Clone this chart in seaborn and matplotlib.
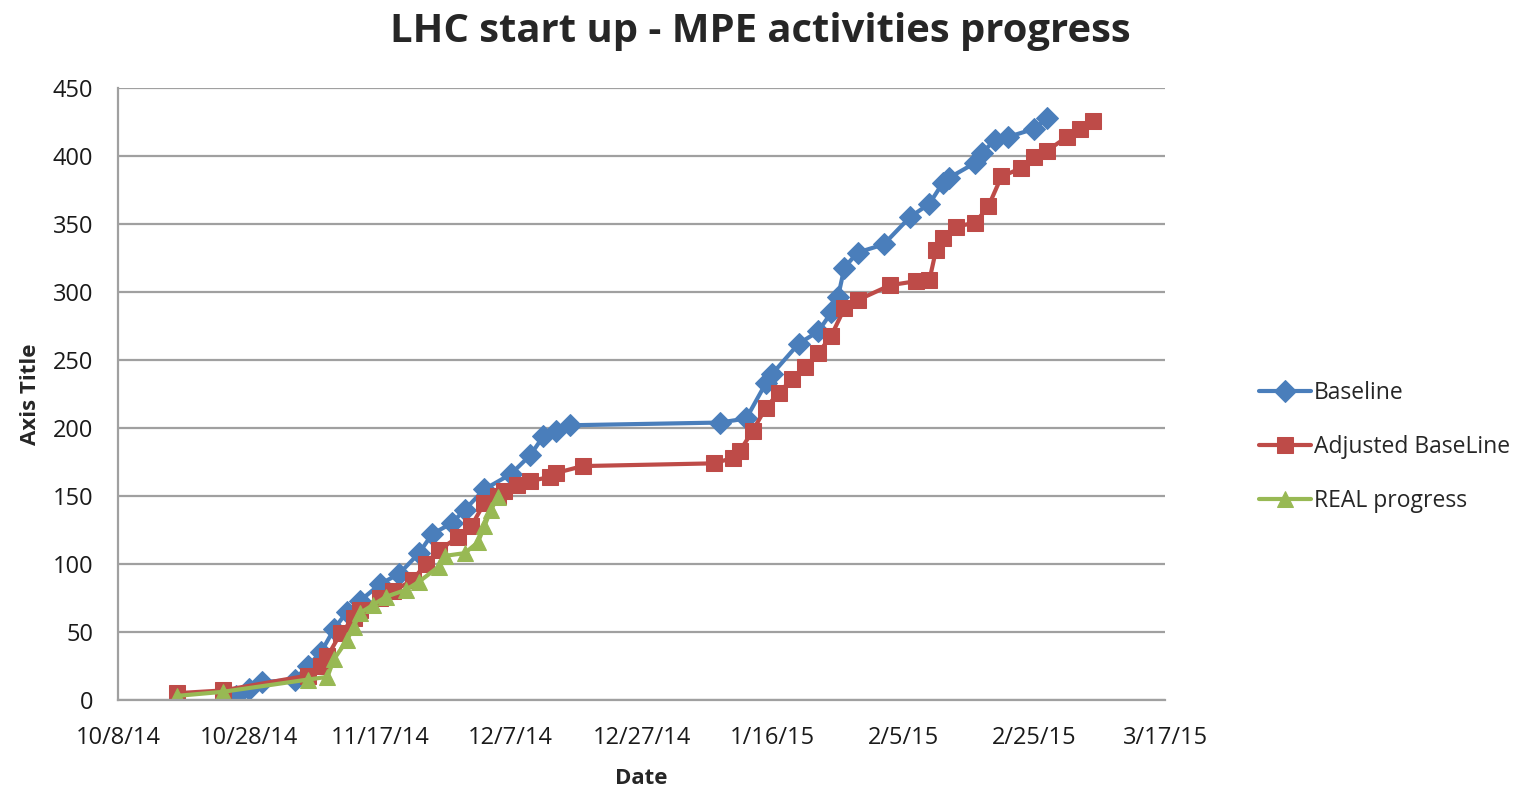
import matplotlib
matplotlib.use("Agg")
import matplotlib.pyplot as plt
import matplotlib.dates as mdates
from matplotlib.ticker import FuncFormatter
import seaborn as sns
import pandas as pd

# ---- data ----
baseline_dates = ["2014-10-26", "2014-10-28", "2014-10-30", "2014-11-04", "2014-11-06", "2014-11-08",
                  "2014-11-10", "2014-11-12", "2014-11-14", "2014-11-17", "2014-11-20", "2014-11-23",
                  "2014-11-25", "2014-11-28", "2014-11-30", "2014-12-03", "2014-12-07", "2014-12-10",
                  "2014-12-12", "2014-12-14", "2014-12-16", "2015-01-08", "2015-01-12", "2015-01-15",
                  "2015-01-16", "2015-01-20", "2015-01-23", "2015-01-25", "2015-01-26", "2015-01-27",
                  "2015-01-29", "2015-02-02", "2015-02-06", "2015-02-09", "2015-02-11", "2015-02-12",
                  "2015-02-16", "2015-02-17", "2015-02-19", "2015-02-21", "2015-02-25", "2015-02-27"]
baseline_values = [3, 8, 13, 15, 25, 35, 52, 65, 73, 85, 93, 108, 122, 130, 140, 155, 166, 180, 194, 198,
                   202, 204, 207, 233, 240, 262, 271, 285, 296, 318, 329, 335, 355, 365, 380, 384, 395,
                   402, 412, 414, 420, 428]

adjusted_dates = ["2014-10-17", "2014-10-24", "2014-11-06", "2014-11-08", "2014-11-09", "2014-11-11",
                  "2014-11-13", "2014-11-14", "2014-11-17", "2014-11-19", "2014-11-22", "2014-11-24",
                  "2014-11-26", "2014-11-29", "2014-12-01", "2014-12-03", "2014-12-05", "2014-12-06",
                  "2014-12-08", "2014-12-10", "2014-12-13", "2014-12-14", "2014-12-18", "2015-01-07",
                  "2015-01-10", "2015-01-11", "2015-01-13", "2015-01-15", "2015-01-17", "2015-01-19",
                  "2015-01-21", "2015-01-23", "2015-01-25", "2015-01-27", "2015-01-29", "2015-02-03",
                  "2015-02-07", "2015-02-09", "2015-02-10", "2015-02-11", "2015-02-13", "2015-02-16",
                  "2015-02-18", "2015-02-20", "2015-02-23", "2015-02-25", "2015-02-27", "2015-03-02",
                  "2015-03-04", "2015-03-06"]
adjusted_values = [5, 7, 18, 25, 32, 49, 60, 66, 75, 80, 88, 100, 110, 120, 128, 145, 150, 154, 158, 161,
                   164, 167, 172, 174, 178, 183, 198, 215, 226, 236, 245, 255, 268, 288, 294, 305, 308,
                   309, 331, 340, 348, 351, 363, 385, 391, 399, 404, 414, 420, 426]

real_dates = ["2014-10-17", "2014-10-24", "2014-11-06", "2014-11-09", "2014-11-10", "2014-11-12",
              "2014-11-13", "2014-11-14", "2014-11-16", "2014-11-18", "2014-11-21", "2014-11-23",
              "2014-11-26", "2014-11-27", "2014-11-30", "2014-12-02", "2014-12-03", "2014-12-04",
              "2014-12-05"]
real_values = [3, 6, 15, 17, 30, 44, 54, 64, 70, 76, 81, 87, 98, 106, 108, 116, 128, 140, 149]

series_names = ["Baseline", "Adjusted BaseLine", "REAL progress"]
series_colors = ["#4A7EBB", "#BE4B48", "#98B954"]
series_markers = ["D", "s", "^"]
y_ticks = [0, 50, 100, 150, 200, 250, 300, 350, 400, 450]
x_tick_dates = ["2014-10-08", "2014-10-28", "2014-11-17", "2014-12-07", "2014-12-27",
                "2015-01-16", "2015-02-05", "2015-02-25", "2015-03-17"]

frames = []
for name, d, v in zip(series_names,
                      [baseline_dates, adjusted_dates, real_dates],
                      [baseline_values, adjusted_values, real_values]):
    frames.append(pd.DataFrame({"Date": pd.to_datetime(d), "Value": v, "Series": name}))
df = pd.concat(frames, ignore_index=True)

sns.set_theme(style="white")
plt.rcParams["font.family"] = ["Open Sans", "DejaVu Sans"]

fig = plt.figure(figsize=(15.21, 7.88), dpi=100)
ax = fig.add_axes([0.0776, 0.1117, 0.6884, 0.7766])

sizes = {"Baseline": 11.5, "Adjusted BaseLine": 11.5, "REAL progress": 12}
for name, color, mk in zip(series_names, series_colors, series_markers):
    sub = df[df["Series"] == name]
    sns.lineplot(data=sub, x="Date", y="Value", ax=ax, color=color, marker=mk,
                 markersize=sizes[name], markeredgecolor=color, linewidth=3.0,
                 estimator=None, sort=True, label=name, legend=False)

xt = pd.to_datetime(x_tick_dates)
ax.set_xlim(xt[0], xt[-1])
ax.set_ylim(0, 450)
ax.set_yticks(y_ticks)
ax.set_xticks(xt)
ax.xaxis.set_major_formatter(FuncFormatter(
    lambda x, pos: (lambda d: f"{d.month}/{d.day}/{d.year % 100}")(mdates.num2date(x))))

ax.yaxis.grid(True, color="#a0a0a0", linewidth=1.6)
ax.xaxis.grid(False)
for s in ["top", "right"]:
    ax.spines[s].set_visible(False)
for s in ["left", "bottom"]:
    ax.spines[s].set_color("#a0a0a0")
    ax.spines[s].set_linewidth(1.6)
ax.tick_params(axis="both", length=0, labelsize=17, colors="#1a1a1a")
ax.tick_params(axis="y", pad=18)
ax.tick_params(axis="x", pad=19)

ax.set_xlabel("Date", fontsize=16, fontweight="bold", labelpad=13)
ax.set_ylabel("Axis Title", fontsize=16, fontweight="bold", labelpad=8)
fig.suptitle("LHC start up - MPE activities progress", fontsize=28.8, fontweight="bold",
             x=0.5, y=0.985)

handles, labels = ax.get_legend_handles_labels()
fig.legend(handles, labels, loc="upper left", bbox_to_anchor=(0.8215, 0.528),
           frameon=False, fontsize=16.5, handlelength=2.3, handletextpad=0.1,
           labelspacing=1.3, borderaxespad=0)

fig.savefig("out.png", dpi=100)
